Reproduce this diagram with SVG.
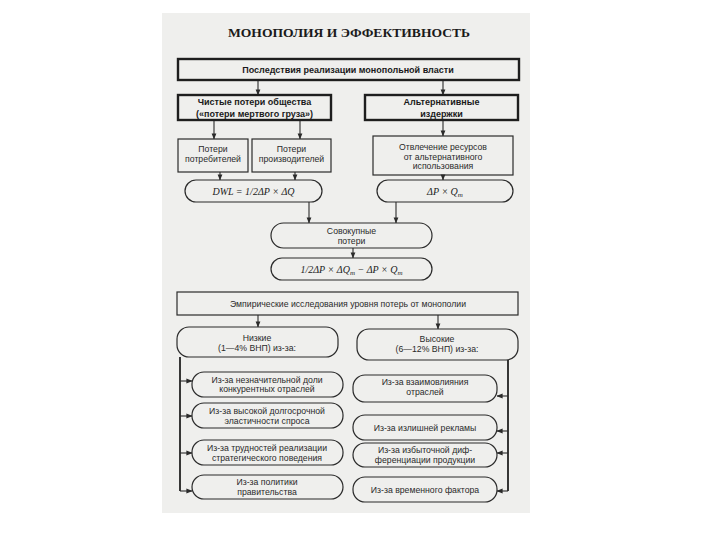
<svg xmlns="http://www.w3.org/2000/svg" width="720" height="540" viewBox="0 0 720 540">
<style>
.bx{fill:none;stroke:#2b2b2b;stroke-width:1.2}
.bk{fill:none;stroke:#1e1e1e;stroke-width:2.4}
.t{font-family:"Liberation Sans",Arial,sans-serif;font-size:8.7px;fill:#2a2a2a;text-anchor:middle}
.b{font-weight:bold;font-size:9px;fill:#1a1a1a}
.f{font-family:"Liberation Serif","Times New Roman",serif;font-style:italic;font-size:10px;fill:#222;text-anchor:middle}
.c{fill:none;stroke:#2b2b2b;stroke-width:1.1}
.cb{fill:none;stroke:#222;stroke-width:1.8}
</style>
<defs>
<marker id="a" viewBox="0 0 8 8" refX="7.5" refY="4" markerWidth="6" markerHeight="6" orient="auto" markerUnits="userSpaceOnUse">
<path d="M0,0.8 L8,4 L0,7.2 Z" fill="#2b2b2b"/>
</marker>
</defs>
<rect width="720" height="540" fill="#ffffff"/>
<rect x="162" y="13" width="368" height="500" fill="#efefed"/>
<text x="349" y="37" font-family="Liberation Serif,'Times New Roman',serif" font-weight="bold" font-size="13.5" fill="#1a1a1a" text-anchor="middle" textLength="242" lengthAdjust="spacingAndGlyphs">МОНОПОЛИЯ И ЭФФЕКТИВНОСТЬ</text>

<g id="connectors">
<line class="c" x1="258" y1="80" x2="258" y2="95" marker-end="url(#a)"/>
<line class="c" x1="443" y1="80" x2="443" y2="95" marker-end="url(#a)"/>
<line class="c" x1="214" y1="120" x2="214" y2="139" marker-end="url(#a)"/>
<line class="c" x1="300" y1="120" x2="300" y2="139" marker-end="url(#a)"/>
<line class="c" x1="443" y1="120" x2="443" y2="136" marker-end="url(#a)"/>
<line class="c" x1="220" y1="172" x2="220" y2="180" marker-end="url(#a)"/>
<line class="c" x1="295" y1="172" x2="295" y2="180" marker-end="url(#a)"/>
<line class="c" x1="443" y1="175" x2="443" y2="180" marker-end="url(#a)"/>
<line class="c" x1="309" y1="202" x2="309" y2="223" marker-end="url(#a)"/>
<line class="c" x1="396" y1="202" x2="396" y2="223" marker-end="url(#a)"/>
<line class="c" x1="353" y1="248" x2="353" y2="258" marker-end="url(#a)"/>
<line class="c" x1="258" y1="315" x2="258" y2="327" marker-end="url(#a)"/>
<line class="c" x1="438" y1="315" x2="438" y2="329" marker-end="url(#a)"/>
<polyline class="cb" points="180,357 180,491"/>
<line class="c" x1="180" y1="381" x2="192" y2="381" marker-end="url(#a)"/>
<line class="c" x1="180" y1="416" x2="192" y2="416" marker-end="url(#a)"/>
<line class="c" x1="180" y1="453" x2="192" y2="453" marker-end="url(#a)"/>
<line class="c" x1="180" y1="491" x2="192" y2="491" marker-end="url(#a)"/>
<polyline class="cb" points="508,360 508,491"/>
<line class="c" x1="508" y1="396" x2="497" y2="396" marker-end="url(#a)"/>
<line class="c" x1="508" y1="431" x2="497" y2="431" marker-end="url(#a)"/>
<line class="c" x1="508" y1="453" x2="497" y2="453" marker-end="url(#a)"/>
<line class="c" x1="508" y1="491" x2="497" y2="491" marker-end="url(#a)"/>
</g>

<g id="n-top"><rect class="bk" x="178" y="59" width="341" height="21"/>
<text class="t b" x="348" y="72.5">Последствия реализации монопольной власти</text></g>

<g id="n-dwl-loss"><rect class="bk" x="178" y="95" width="153" height="25"/>
<text class="t b" x="254.5" y="105">Чистые потери общества</text>
<text class="t b" x="254.5" y="117">(«потери мертвого груза»)</text></g>

<g id="n-alt"><rect class="bk" x="365" y="95" width="153" height="25"/>
<text class="t b" x="441.5" y="105">Альтернативные</text>
<text class="t b" x="441.5" y="117">издержки</text></g>

<g id="n-cons"><rect class="bx" x="178" y="139" width="70" height="33"/>
<text class="t" x="213" y="152">Потери</text>
<text class="t" x="213" y="162">потребителей</text></g>

<g id="n-prod"><rect class="bx" x="252" y="139" width="79" height="33"/>
<text class="t" x="291.5" y="152">Потери</text>
<text class="t" x="291.5" y="162">производителей</text></g>

<g id="n-divert"><rect class="bx" x="373" y="136" width="140" height="39"/>
<text class="t" x="443" y="150">Отвлечение ресурсов</text>
<text class="t" x="443" y="159.5">от альтернативного</text>
<text class="t" x="443" y="169">использования</text></g>

<g id="n-dwl"><rect class="bx" x="185" y="180" width="137" height="22" rx="11"/>
<text class="f" x="253.5" y="194.5">DWL = 1/2ΔP × ΔQ</text></g>

<g id="n-pq"><rect class="bx" x="377" y="180" width="136" height="22" rx="11"/>
<text class="f" x="445" y="194.5">ΔP × Q<tspan font-size="7" dy="2">m</tspan></text></g>

<g id="n-total"><rect class="bx" x="271" y="223" width="161" height="25" rx="12.5"/>
<text class="t" x="351.5" y="234">Совокупные</text>
<text class="t" x="351.5" y="243.5">потери</text></g>

<g id="n-total-f"><rect class="bx" x="271" y="258" width="161" height="22" rx="11"/>
<text class="f" x="351.5" y="272.5">1/2ΔP × ΔQ<tspan font-size="7" dy="2">m</tspan><tspan dy="-2"> − ΔP × Q</tspan><tspan font-size="7" dy="2">m</tspan></text></g>

<g id="n-emp"><rect class="bx" x="177" y="292" width="341" height="23"/>
<text class="t" x="348" y="306.5">Эмпирические исследования уровня потерь от монополии</text></g>

<g id="n-low"><rect class="bx" x="177" y="327" width="161" height="30" rx="12"/>
<text class="t" x="257" y="341">Низкие</text>
<text class="t" x="257" y="350.5">(1—4% ВНП) из-за:</text></g>

<g id="n-high"><rect class="bx" x="357" y="329" width="161" height="31" rx="12"/>
<text class="t" x="437" y="342">Высокие</text>
<text class="t" x="437" y="351.5">(6—12% ВНП) из-за:</text></g>

<g id="n-l1"><rect class="bx" x="192" y="372" width="151" height="25" rx="12"/>
<text class="t" x="267" y="382.5">Из-за незначительной доли</text>
<text class="t" x="267" y="392">конкурентных отраслей</text></g>

<g id="n-l2"><rect class="bx" x="192" y="403" width="151" height="25" rx="12"/>
<text class="t" x="267" y="413.5">Из-за высокой долгосрочной</text>
<text class="t" x="267" y="423.5">эластичности спроса</text></g>

<g id="n-l3"><rect class="bx" x="192" y="440" width="151" height="25" rx="12"/>
<text class="t" x="267" y="450.5">Из-за трудностей реализации</text>
<text class="t" x="267" y="460.5">стратегического поведения</text></g>

<g id="n-l4"><rect class="bx" x="192" y="475" width="151" height="24" rx="12"/>
<text class="t" x="267" y="485">Из-за политики</text>
<text class="t" x="267" y="494.5">правительства</text></g>

<g id="n-r1"><rect class="bx" x="353" y="375" width="144" height="27" rx="12"/>
<text class="t" x="425" y="385">Из-за взаимовлияния</text>
<text class="t" x="425" y="395">отраслей</text></g>

<g id="n-r2"><rect class="bx" x="353" y="415" width="144" height="25" rx="12"/>
<text class="t" x="425" y="430.5">Из-за излишней рекламы</text></g>

<g id="n-r3"><rect class="bx" x="353" y="443" width="144" height="24" rx="12"/>
<text class="t" x="425" y="453">Из-за избыточной диф-</text>
<text class="t" x="425" y="463">ференциации продукции</text></g>

<g id="n-r4"><rect class="bx" x="353" y="477" width="144" height="25" rx="12"/>
<text class="t" x="425" y="492.5">Из-за временного фактора</text></g>
</svg>
